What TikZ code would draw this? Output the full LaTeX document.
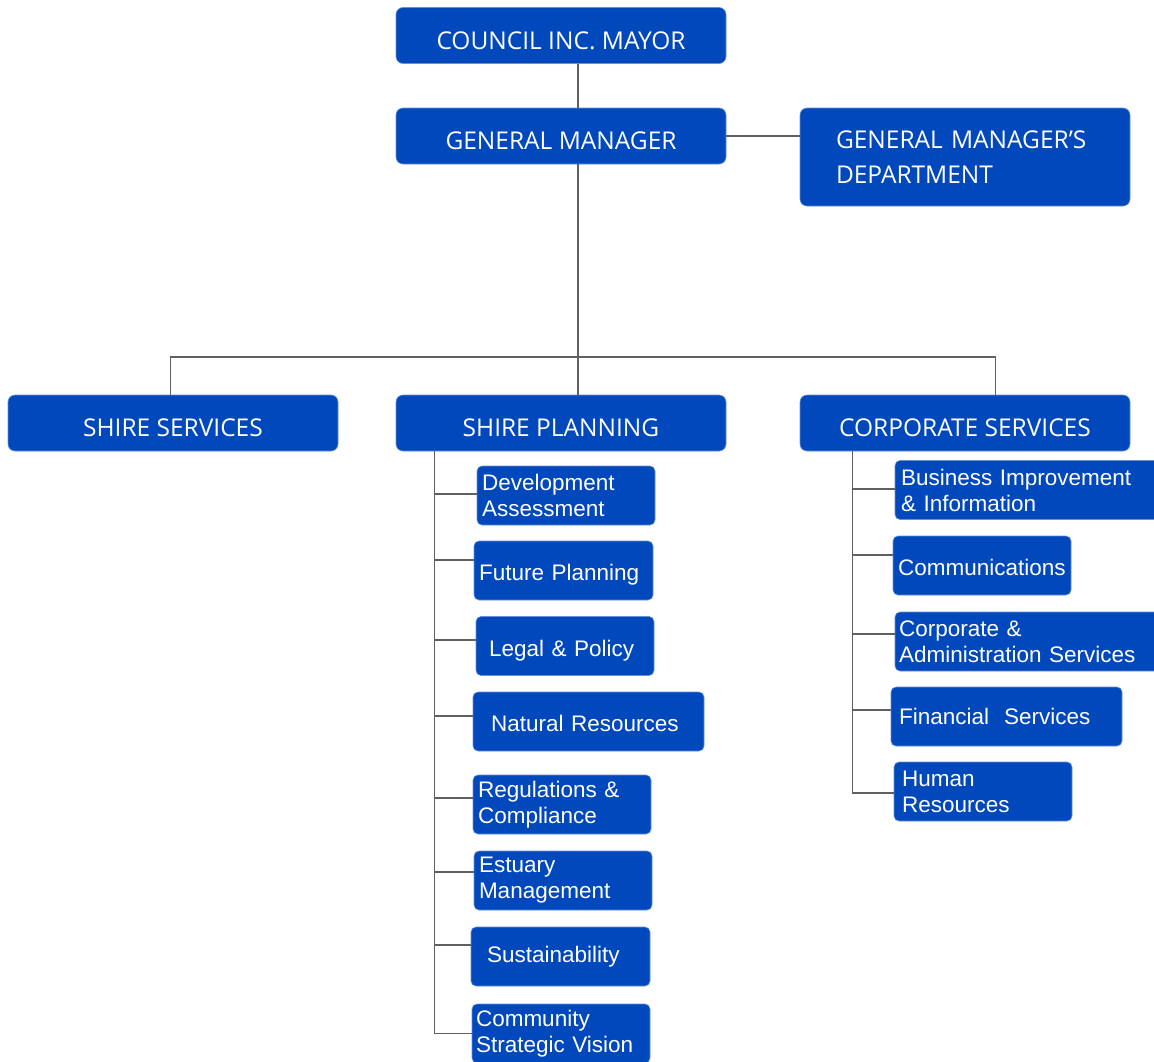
\documentclass[tikz,border=0pt]{standalone}
\usepackage{fontspec}
\setmainfont{Liberation Sans}
\newfontfamily\headfont{Open Sans}
\definecolor{boxblue}{HTML}{0048BB}
\definecolor{linegray}{HTML}{606060}
\begin{document}
\begin{tikzpicture}[x=1pt,y=-1pt,
  topbox/.style={fill=boxblue,draw=boxblue!60!white,line width=0.6pt,rounded corners=7pt,text=white,
    font=\headfont\fontsize{24.5}{35}\selectfont,minimum width=330pt,minimum height=56pt,inner sep=0pt},
  single/.style={text height=27pt,text depth=0pt},
  subbox/.style={fill=boxblue,draw=boxblue!60!white,line width=0.6pt,rounded corners=5pt,text=white,
    font=\fontsize{22.5}{26}\selectfont,align=left,minimum height=59pt,inner ysep=0pt},
  sone/.style={text height=20pt,text depth=0pt},
  conn/.style={draw=linegray,line width=1.4pt}]
\useasboundingbox (0,0) rectangle (1154,1061);
\fill[white] (0,0) rectangle (1154,1061);
% top level
\node[topbox,single] (council) at (561,35.5) {COUNCIL INC. MAYOR};
\node[topbox,single] (gm) at (561,136) {GENERAL MANAGER};
\node[topbox,minimum height=98pt,text width=258pt,inner xsep=36pt,align=left] (gmd) at (965,157)
  {GENERAL MANAGER’S\\DEPARTMENT};
\node[topbox,single] (ss) at (173,423) {SHIRE SERVICES};
\node[topbox,single] (sp) at (561,423) {SHIRE PLANNING};
\node[topbox,single] (cs) at (965,423) {CORPORATE SERVICES};
% shire planning children
\node[subbox,text width=168pt,inner xsep=5pt] (da) at (566,495.5) {Development\\Assessment};
\node[subbox,sone,text width=169pt,inner xsep=5pt] (fp) at (563.5,570.5) {Future Planning};
\node[subbox,sone,text width=152pt,inner xsep=13pt] (lp) at (565,646) {Legal \& Policy};
\node[subbox,sone,text width=195pt,inner xsep=18pt] (nr) at (588.5,721.5) {Natural Resources};
\node[subbox,text width=168pt,inner xsep=5pt] (rc) at (562,804.5) {Regulations \&\\Compliance};
\node[subbox,text width=168pt,inner xsep=5pt] (em) at (563,880.5) {Estuary\\Management};
\node[subbox,text width=147pt,inner xsep=16pt] (su) at (560.5,956.5) {Sustainability};
\node[subbox,text width=170pt,inner xsep=4pt] (csv) at (561,1033.5) {Community\\Strategic Vision};
% corporate services children
\node[subbox,text width=260pt,inner xsep=6pt] (bi) at (1031,490) {Business Improvement\\\& Information};
\node[subbox,sone,text width=168pt,inner xsep=5pt] (co) at (982,565.5) {Communications};
\node[subbox,text width=262pt,inner xsep=4pt] (ca) at (1030,641.5) {Corporate \&\\Administration Services};
\node[subbox,text width=215pt,inner xsep=8pt] (fs) at (1006.5,716.5) {Financial~~Services};
\node[subbox,text width=162pt,inner xsep=8pt] (hr) at (983,791.5) {Human\\Resources};
% connectors
\coordinate (gmx) at ([xshift=17pt]gm.south);
\coordinate (bus) at (578,357);
\draw[conn] ([xshift=17pt]council.south) -- ([xshift=17pt]gm.north);
\draw[conn] (gm.east) -- (gm.east -| gmd.west);
\draw[conn] (gmx) -- (bus);
\draw[conn] (ss.north -| 170.5,0) |- (bus) -| (cs.north -| 995.5,0);
\draw[conn] (bus) -- (sp.north -| bus);
\coordinate (spt) at ([xshift=39pt]sp.south west);
\draw[conn] (spt) |- (csv.west);
\foreach \n/\yy in {da/494,fp/560,lp/640,nr/716,rc/798,em/872,su/945}
  \draw[conn] (spt |- 0,\yy) -- (\n.west |- 0,\yy);
\coordinate (cst) at ([xshift=53pt]cs.south west);
\draw[conn] (cst) |- (hr.west |- 0,793);
\foreach \n/\yy in {bi/489,co/555,ca/634,fs/710}
  \draw[conn] (cst |- 0,\yy) -- (\n.west |- 0,\yy);
\end{tikzpicture}
\end{document}
